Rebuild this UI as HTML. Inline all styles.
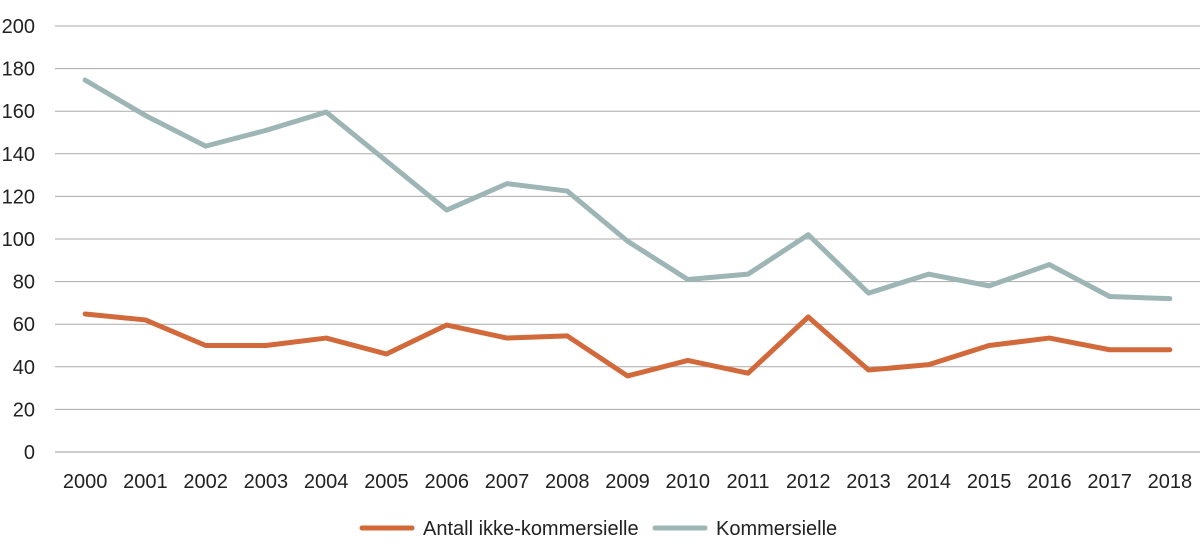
<!DOCTYPE html>
<html><head><meta charset="utf-8">
<style>
html,body{margin:0;padding:0;background:#fff;}
svg{display:block;font-family:"Liberation Sans",Arial,sans-serif;}
</style></head>
<body>
<svg id="chart" width="1200" height="556"></svg>
<script>
const years = ["2000","2001","2002","2003","2004","2005","2006","2007","2008","2009","2010","2011","2012","2013","2014","2015","2016","2017","2018"];
const ikkeKommersielle = [64.8,62,50,50,53.5,46,59.6,53.5,54.5,35.7,43,37,63.4,38.5,41,50,53.5,48,48];
const kommersielle = [174.6,158,143.6,151,159.6,136.6,113.6,126,122.5,99,81,83.5,102,74.6,83.5,78,88,73,72];
const yTicks = [0,20,40,60,80,100,120,140,160,180,200];

const svg = document.getElementById('chart');
const NS = 'http://www.w3.org/2000/svg';
const x0 = 55, x1 = 1200, yBase = 452, yTop = 26;
const step = (x1 - x0) / years.length;
function xs(i){ return x0 + step * (i + 0.5); }
function ys(v){ return yBase - (v / 200) * (yBase - yTop); }
function mk(tag, attrs){ const e = document.createElementNS(NS, tag); for (const k in attrs) e.setAttribute(k, attrs[k]); svg.appendChild(e); return e; }

yTicks.forEach(t => {
  const l = mk('line', {x1:x0, x2:x1, y1:ys(t), y2:ys(t), stroke: t===0 ? '#999' : '#aaa', 'stroke-width':1});
  
  
  const tx = mk('text', {x:35, y:ys(t)+7, 'text-anchor':'end', 'font-size':20, fill:'#222'});
  tx.textContent = t;
  
  
});
years.forEach((yr, i) => {
  const tx = mk('text', {x:xs(i), y:488, 'text-anchor':'middle', 'font-size':20, fill:'#222'});
  tx.textContent = yr;
  
  
});
function series(vals, color, name){
  const p = mk('polyline', {points: vals.map((v,i)=>xs(i)+','+ys(v)).join(' '), fill:'none', stroke:color, 'stroke-width':5, 'stroke-linejoin':'round', 'stroke-linecap':'round'});
  
  
}
series(kommersielle, '#9db5b5', 'kommersielle-line');
series(ikkeKommersielle, '#d2693b', 'ikke-kommersielle-line');

function legend(xl, color, label, name){
  const l = mk('line', {x1:xl, x2:xl+50, y1:528, y2:528, stroke:color, 'stroke-width':5, 'stroke-linecap':'round'});
  
  
  const t = mk('text', {x:xl+61, y:535, 'font-size':20, fill:'#222'});
  t.textContent = label;
  
  
}
legend(362, '#d2693b', 'Antall ikke-kommersielle', 'legend-ikke-kommersielle');
legend(655, '#9db5b5', 'Kommersielle', 'legend-kommersielle');
</script>
</body></html>
